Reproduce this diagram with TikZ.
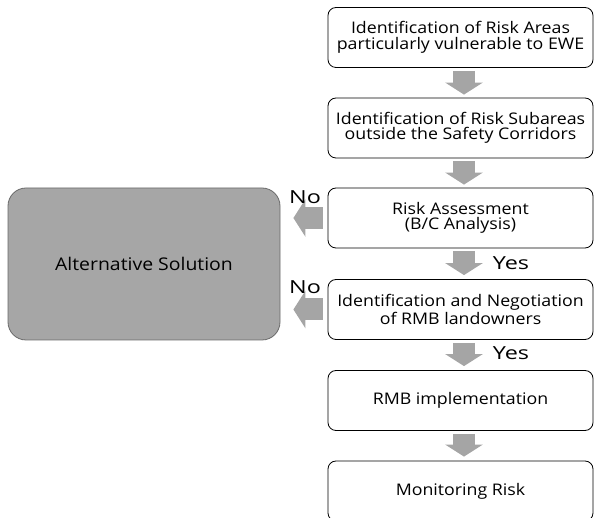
\documentclass[tikz,border=0pt]{standalone}
\usepackage{fontspec}
\setmainfont[FakeStretch=1.11]{Open Sans}
\newfontfamily\decfont[FakeStretch=1.3]{Open Sans}
\usetikzlibrary{arrows.meta,calc}
\definecolor{arrowgray}{HTML}{A5A5A5}
\definecolor{altgray}{HTML}{A6A6A6}
\definecolor{altborder}{HTML}{6A6A6A}
\tikzset{
  stepbox/.style={draw=black, line width=0.8pt, rounded corners=8pt, fill=white,
    minimum width=265pt, minimum height=60pt, align=center, inner sep=0pt,
    font=\fontsize{16}{15.5}\selectfont},
  altbox/.style={draw=altborder, line width=0.8pt, rounded corners=18pt, fill=altgray,
    minimum width=272pt, minimum height=152pt, align=center,
    font=\fontsize{17.5}{18}\selectfont},
  blockarrow/.style={draw=arrowgray, line width=22pt,
    -{Triangle[length=12pt,width=37pt]}},
  decision/.style={font=\decfont\fontsize{18}{20}\selectfont, inner sep=0pt}
}
\begin{document}
\begin{tikzpicture}[x=1pt,y=-1pt]
\useasboundingbox (0,0) rectangle (595,518);
\clip (0,0) rectangle (595,518);
\node[stepbox] (b1) at (460.5,37.5) {Identification of Risk Areas\\particularly vulnerable to EWE};
\node[stepbox] (b2) at (460.5,128) {Identification of Risk Subareas\\outside the Safety Corridors};
\node[stepbox] (b3) at (460.5,218) {Risk Assessment\\(B/C Analysis)};
\node[stepbox] (b4) at (460.5,309.5) {Identification and Negotiation\\of RMB landowners};
\node[stepbox] (b5) at (460.5,400.5) {RMB implementation};
\node[stepbox] (b6) at (460.5,491) {Monitoring Risk};
\node[altbox] (alt) at (144,264) {Alternative Solution};
\draw[blockarrow] ($(b1.south)+(3.5,3)$) -- ($(b2.north)+(3.5,-3)$);
\draw[blockarrow] ($(b2.south)+(3.5,3)$) -- ($(b3.north)+(3.5,-3)$);
\draw[blockarrow] ($(b3.south)+(3.5,3)$) -- ($(b4.north)+(3.5,-4)$);
\draw[blockarrow] ($(b4.south)+(3.5,3)$) -- ($(b5.north)+(3.5,-4)$);
\draw[blockarrow] ($(b5.south)+(3.5,3)$) -- ($(b6.north)+(3.5,-4)$);
\draw[blockarrow, shorten <=5pt, shorten >=13pt] (b3.west) -- (alt.east |- b3.west);
\draw[blockarrow, shorten <=5pt, shorten >=13pt] (b4.west) -- (alt.east |- b4.west);
\node[decision] (no1) at (305,197) {No};
\node[decision] (no2) at (305,287) {No};
\node[decision] (yes1) at (511,263) {Yes};
\node[decision] (yes2) at (511,353) {Yes};
\end{tikzpicture}
\end{document}
